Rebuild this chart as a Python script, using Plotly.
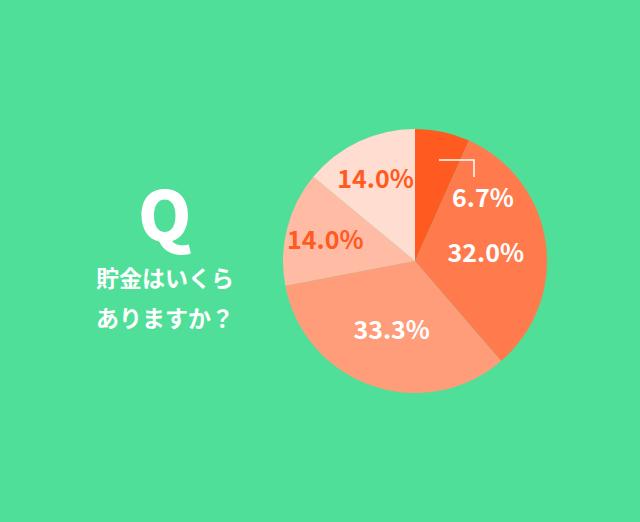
import plotly.graph_objects as go

# データ
categories = ["A", "B", "C", "D", "E"]
values = [6.7, 32.0, 33.3, 14.0, 14.0]
slice_colors = ["#FF5A1F", "#FF7A4D", "#FF9C7A", "#FFBBA3", "#FFDDD0"]
label_colors = ["white", "white", "white", "#FF5A1F", "#FF5A1F"]
question_lines = ["貯金はいくら", "ありますか？"]

W, H = 640, 522
BG = "#50DF98"
FONT = "Noto Sans CJK JP"

texts = ["" if v < 10 else f"{v:.1f}%" for v in values]

fig = go.Figure(go.Pie(
    labels=categories,
    values=values,
    text=texts,
    textinfo="text",
    sort=False,
    direction="clockwise",
    rotation=0,
    marker=dict(colors=slice_colors, line=dict(width=0)),
    textposition="inside",
    insidetextorientation="horizontal",
    textfont=dict(family=FONT, size=25, color=label_colors, weight="bold"),
    hoverinfo="skip",
    domain=dict(x=[(415 - 132) / W, (415 + 132) / W],
                y=[(H - 393) / H, (H - 129) / H]),
    showlegend=False,
))

# 小さいスライスのラベル（引き出し線付き）
fig.add_annotation(x=483 / W, y=1 - 196 / H, xref="paper", yref="paper",
                   xanchor="center", yanchor="middle",
                   text=f"<b>{values[0]:.1f}%</b>", showarrow=False,
                   font=dict(family=FONT, size=25, color="white"))
fig.add_shape(type="path", xref="paper", yref="paper",
              path=f"M {439 / W} {1 - 160 / H} L {474 / W} {1 - 160 / H} L {474 / W} {1 - 177 / H}",
              line=dict(color="white", width=1.5))

# 左側の質問テキスト
fig.add_annotation(x=164 / W, y=1 - 211 / H, xref="paper", yref="paper",
                   xanchor="center", yanchor="middle",
                   text="Q", showarrow=False,
                   font=dict(family=FONT, size=68, color="white", weight=900))
for i, line in enumerate(question_lines):
    fig.add_annotation(x=165 / W, y=1 - (277 + 40 * i) / H, xref="paper", yref="paper",
                       xanchor="center", yanchor="middle",
                       text=f"<b>{line}</b>", showarrow=False,
                       font=dict(family=FONT, size=23, color="white"))

fig.update_layout(
    width=W, height=H,
    margin=dict(l=0, r=0, t=0, b=0),
    paper_bgcolor=BG,
    plot_bgcolor=BG,
    uniformtext=dict(minsize=25, mode="show"),
)

fig.write_html("out.html", config={"displayModeBar": False},
               post_script="document.body.style.margin='0';")
